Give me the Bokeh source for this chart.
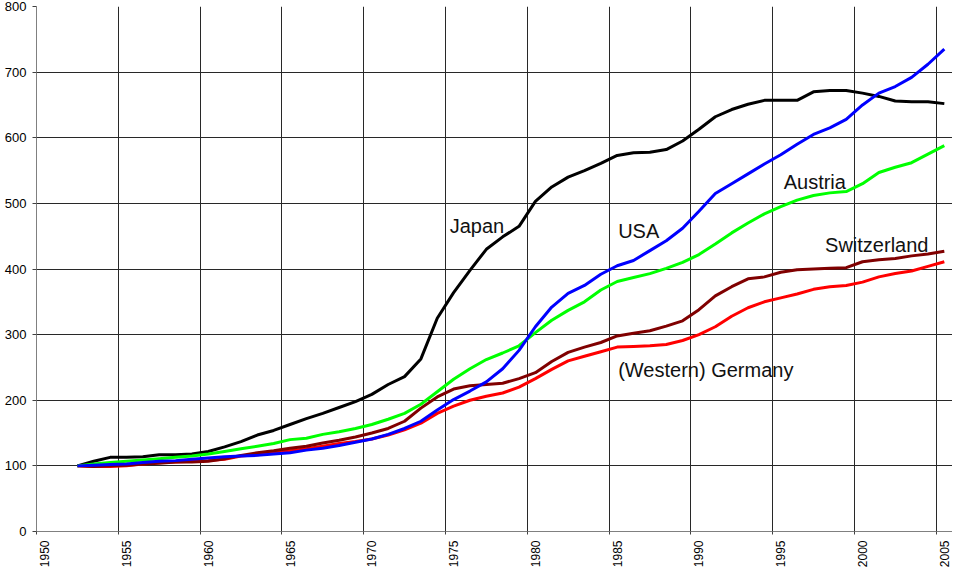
import math
from bokeh.plotting import figure
from bokeh.models import FixedTicker, LinearAxis, Label, Range1d, Grid
from bokeh.embed import file_html
from bokeh.resources import INLINE

# ---- data (index values, 1952 = 100) ----
years = list(range(1952, 2006))
japan = [100, 107, 113, 113, 114, 117, 117, 118, 122, 129,
         137, 147, 154, 163, 172, 180, 189, 198, 209, 224,
         236, 263, 325, 364, 398, 430, 449, 465, 503, 525,
         540, 550, 561, 573, 577, 578, 582, 595, 613, 632,
         643, 651, 657, 657, 657, 670, 672, 672, 668, 663,
         656, 655, 655, 652]
usa = [100, 101, 102, 103, 105, 107, 108, 110, 112, 114,
       115, 116, 118, 120, 124, 127, 131, 136, 141, 148,
       157, 168, 185, 201, 214, 228, 248, 276, 312, 342,
       363, 375, 392, 405, 413, 428, 443, 462, 488, 515,
       530, 545, 560, 574, 590, 605, 615, 628, 650, 668,
       678, 692, 712, 735]
austria = [100, 103, 105, 107, 109, 111, 113, 115, 118, 122,
           126, 130, 134, 140, 142, 148, 152, 157, 163, 171,
           180, 194, 213, 232, 248, 262, 272, 283, 303, 322,
           337, 350, 368, 381, 387, 393, 401, 410, 422, 438,
           455, 470, 484, 495, 505, 512, 516, 518, 530, 547,
           555, 562, 575, 588]
switzerland = [100, 99, 100, 101, 103, 104, 106, 106, 107, 111,
               116, 120, 123, 127, 130, 135, 139, 144, 150, 157,
               168, 188, 205, 217, 222, 224, 226, 233, 242, 259,
               273, 281, 288, 298, 302, 306, 313, 321, 338, 359,
               373, 385, 388, 395, 399, 400, 401, 402, 411, 414,
               416, 420, 423, 427]
germany = [100, 99, 99, 100, 103, 105, 106, 107, 108, 110,
           115, 117, 120, 123, 126, 130, 134, 137, 141, 147,
           155, 165, 180, 191, 200, 206, 211, 220, 233, 247,
           260, 267, 274, 281, 282, 283, 285, 291, 300, 312,
           328, 341, 350, 356, 362, 369, 373, 375, 380, 388,
           393, 397, 404, 411]

series_names = ["Japan", "(Western) Germany", "Switzerland", "Austria", "USA"]
tick_years = list(range(1950, 2006, 5))
y_ticks = list(range(0, 801, 100))

FONT = "Liberation Sans"

p = figure(width=952, height=570,
           x_range=Range1d(1949.5, 2005.5), y_range=Range1d(0, 800),
           x_axis_type=None, y_axis_type=None,
           output_backend="svg", toolbar_location=None)
p.outline_line_color = None
p.background_fill_color = "white"
p.border_fill_color = "white"
p.min_border_left = 36
p.min_border_right = 0
p.min_border_top = 6
p.min_border_bottom = 30

# category boundaries (gridlines) between years
bounds = [t - 0.5 for t in tick_years]

xaxis = LinearAxis(ticker=FixedTicker(ticks=tick_years, minor_ticks=bounds))
xaxis.major_label_orientation = math.pi / 2
xaxis.major_label_text_font = FONT
xaxis.major_label_text_font_size = "12px"
xaxis.major_label_text_color = "black"
xaxis.major_label_standoff = 6
xaxis.axis_label_standoff = 0
xaxis.major_tick_out = 0
xaxis.major_tick_in = 0
xaxis.minor_tick_out = 3
xaxis.minor_tick_in = 0
xaxis.minor_tick_line_color = "#404040"
xaxis.axis_line_color = "#808080"
p.add_layout(xaxis, "below")

yaxis = LinearAxis(ticker=FixedTicker(ticks=y_ticks, minor_ticks=[]))
yaxis.major_label_text_font = FONT
yaxis.major_label_text_font_size = "13px"
yaxis.major_label_text_color = "black"
yaxis.major_label_standoff = 6
yaxis.axis_label_standoff = 0
yaxis.major_tick_out = 4
yaxis.major_tick_in = 0
yaxis.major_tick_line_color = "#404040"
yaxis.axis_line_color = "#808080"
p.add_layout(yaxis, "left")

xgrid = Grid(dimension=0, ticker=FixedTicker(ticks=bounds[1:]))
xgrid.grid_line_color = "#282828"
xgrid.grid_line_width = 1
ygrid = Grid(dimension=1, ticker=FixedTicker(ticks=y_ticks[1:]))
ygrid.grid_line_color = "#282828"
ygrid.grid_line_width = 1
p.add_layout(xgrid, "center")
p.add_layout(ygrid, "center")

LW = 3
p.line(years, japan, line_color="#000000", line_width=LW)
p.line(years, germany, line_color="#FF0000", line_width=LW)
p.line(years, switzerland, line_color="#800000", line_width=LW)
p.line(years, austria, line_color="#00FF00", line_width=LW)
p.line(years, usa, line_color="#0000FF", line_width=LW)

label_pos = {
    "Japan": (1974.76, 466),
    "USA": (1985.06, 458),
    "Austria": (1995.18, 533),
    "Switzerland": (1997.71, 436),
    "(Western) Germany": (1985.06, 246),
}
for name in series_names:
    lx, ly = label_pos[name]
    p.add_layout(Label(x=lx, y=ly, text=name, text_font=FONT,
                       text_font_size="20px", text_color="#111111",
                       text_align="left", text_baseline="alphabetic"))

open("out.html", "w").write(file_html(p, INLINE))
